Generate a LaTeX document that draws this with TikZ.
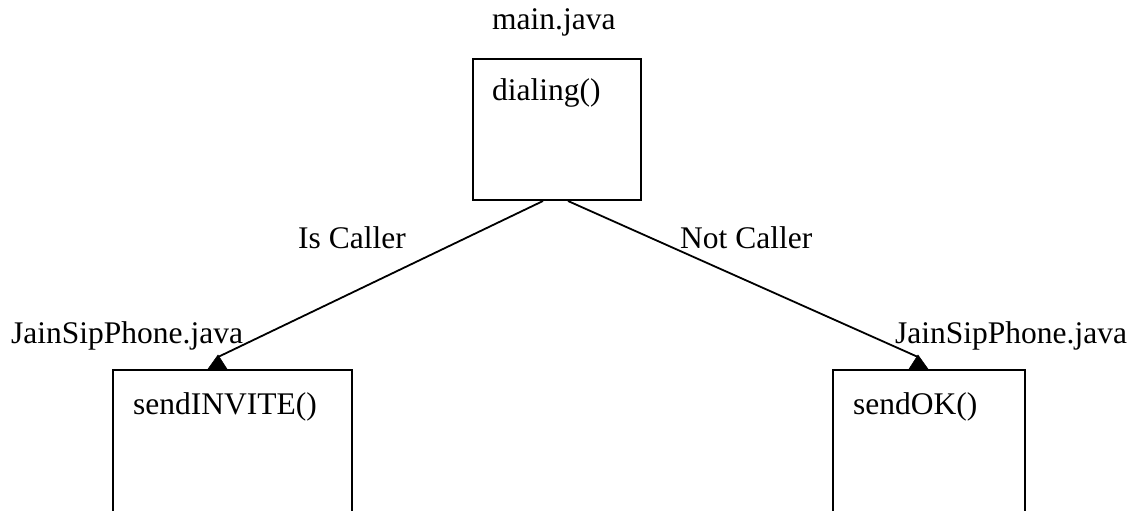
\documentclass[tikz,border=0pt]{standalone}
\usepackage{fontspec}
\setmainfont{Liberation Serif}
\usetikzlibrary{calc}
\begin{document}
\begin{tikzpicture}[x=1pt,y=-1pt,
  lbl/.style={font=\fontsize{31.5}{38}\selectfont, inner sep=0pt, anchor=base west},
  box/.style={draw, line width=2pt, inner sep=0pt, anchor=north west},
  conn/.style={line width=1.8pt},
  tipfill/.style={fill=black, draw=black, line width=0.5pt}]
\useasboundingbox (0,0) rectangle (1146,511);
\clip (0,0) rectangle (1146,511);
% boxes
\node[box, minimum width=168pt, minimum height=141pt] (dial) at (472,58) {};
\node[box, minimum width=239pt, minimum height=200pt] (inv) at (112,369) {};
\node[box, minimum width=192pt, minimum height=200pt] (ok) at (832,369) {};
% texts
\node[lbl] (tmain) at (492,30) {main.java};
\node[lbl] (tdial) at ($(dial.north west)+(20,42)$) {dialing()};
\node[lbl] (tinv) at ($(inv.north west)+(21,45)$) {sendINVITE()};
\node[lbl] (tok) at ($(ok.north west)+(21,45)$) {sendOK()};
\node[lbl] (jl) at (11,343) {JainSipPhone.java};
\node[lbl] (jr) at (895,343) {JainSipPhone.java};
\node[lbl] (isc) at (298,248) {Is Caller};
\node[lbl] (notc) at (680,248) {Not Caller};
% connector end points
\coordinate (s1) at ($(dial.south west)+(71,0)$);
\coordinate (s2) at ($(dial.south west)+(96,0)$);
\coordinate (a1) at ($(inv.north west)+(106,-12)$);
\coordinate (a2) at ($(ok.north west)+(86,-12)$);
\draw[conn] (s1) -- (a1);
\draw[conn] (s2) -- (a2);
\filldraw[tipfill] ($(a1)+(0,-2)$) -- ($(inv.north west)+(96,0)$) -- ($(inv.north west)+(115,0)$) -- cycle;
\filldraw[tipfill] ($(a2)+(0,-2)$) -- ($(ok.north west)+(77,0)$) -- ($(ok.north west)+(96,0)$) -- cycle;
\end{tikzpicture}
\end{document}
